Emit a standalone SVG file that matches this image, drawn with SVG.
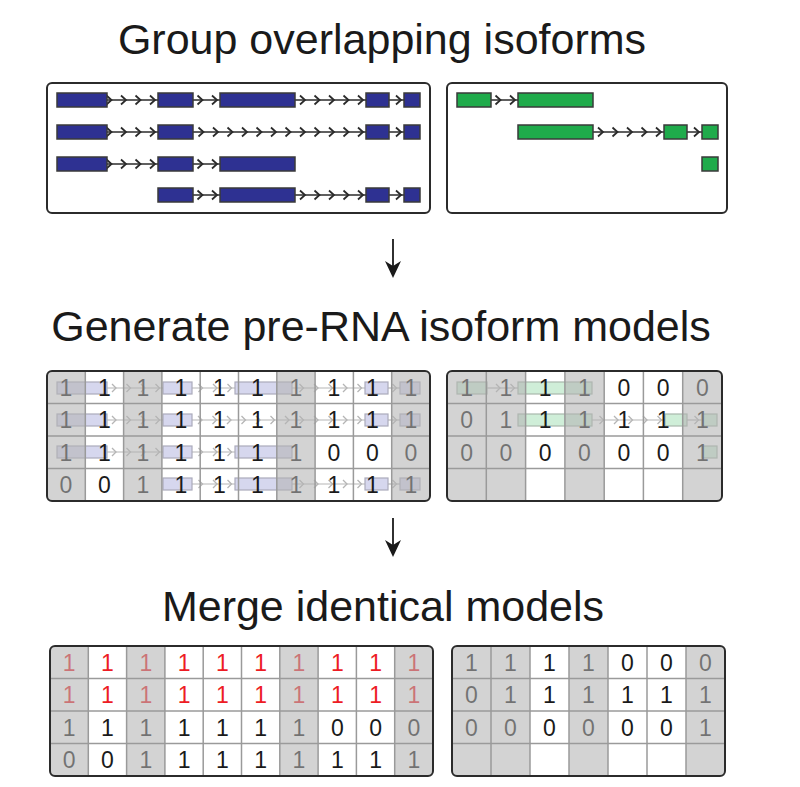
<svg xmlns="http://www.w3.org/2000/svg" width="800" height="787" viewBox="0 0 800 787">
<style>
.title{font-family:"Liberation Sans",Arial,Helvetica,sans-serif;font-size:43px;fill:#1a1a1a;text-anchor:middle}
.frame{fill:none;stroke:#2b2b2b;stroke-width:2}
.bg{fill:#ffffff}
.exB{fill:#2e3192;stroke:#3a3a3a;stroke-width:1.5}
.exG{fill:#1fab4b;stroke:#3a3a3a;stroke-width:1.5}
.intron{fill:none;stroke:#2b2b2b;stroke-width:1.5;marker-mid:url(#chev)}
.ovB{fill:#d6d7ee;stroke:#ababbb;stroke-width:1.2}
.ovG{fill:#cfeed8;stroke:#a8b8ac;stroke-width:1.2}
.ovI{fill:none;stroke:#b5b5b5;stroke-width:1.2;marker-mid:url(#chevL)}
.cell{font-family:"Liberation Sans",Arial,Helvetica,sans-serif;font-size:23px;fill:#1a1a1a;text-anchor:middle}
.red{fill:#ed1c24}
.gcol{fill:#b3b3b3;fill-opacity:0.58}
.grid{fill:none;stroke:#9a9a9a;stroke-width:1.5}
.shaft{stroke:#1a1a1a;stroke-width:1.8}
.head{fill:#1a1a1a}
</style>
<defs>
<marker id="chev" viewBox="-6 -6 12 12" markerWidth="12" markerHeight="12" refX="0" refY="0" orient="auto" markerUnits="userSpaceOnUse">
<path d="M-4,-4.5 L1,0 L-4,4.5" fill="none" stroke="#2b2b2b" stroke-width="1.8"/>
</marker>
<marker id="chevL" viewBox="-6 -6 12 12" markerWidth="12" markerHeight="12" refX="0" refY="0" orient="auto" markerUnits="userSpaceOnUse">
<path d="M-3.5,-4 L0.5,0 L-3.5,4" fill="none" stroke="#b5b5b5" stroke-width="1.3"/>
</marker>
<clipPath id="cML"><rect x="47" y="371" width="383" height="130" rx="5"/></clipPath>
<clipPath id="cMR"><rect x="447" y="371" width="275" height="130" rx="5"/></clipPath>
<clipPath id="cBL"><rect x="50" y="646" width="383" height="130" rx="5"/></clipPath>
<clipPath id="cBR"><rect x="452" y="646" width="273" height="130" rx="5"/></clipPath>
</defs>

<g id="title-group"><text class="title" x="382" y="54">Group overlapping isoforms</text></g>
<g id="title-generate"><text class="title" x="381" y="341">Generate pre-RNA isoform models</text></g>
<g id="title-merge"><text class="title" x="383" y="621">Merge identical models</text></g>

<!-- Top left: blue isoforms -->
<g id="isoforms-blue">
<rect class="bg" x="47" y="83" width="383" height="130" rx="5"/>
<polyline class="intron" points="107,100 110.5,100 125,100 139.5,100 154,100 158,100"/>
<polyline class="intron" points="193,100 201.5,100 216,100 220,100"/>
<polyline class="intron" points="295,100 304,100 318.5,100 333,100 347.5,100 362,100 366,100"/>
<polyline class="intron" points="389,100 400,100 404,100"/>
<rect class="exB" x="57" y="93" width="50" height="14"/>
<rect class="exB" x="158" y="93" width="35" height="14"/>
<rect class="exB" x="220" y="93" width="75" height="14"/>
<rect class="exB" x="366" y="93" width="23" height="14"/>
<rect class="exB" x="404" y="93" width="16" height="14"/>

<polyline class="intron" points="107,132 110.5,132 125,132 139.5,132 154,132 158,132"/>
<polyline class="intron" points="193,132 202.5,132 217,132 231.5,132 246,132 260.5,132 275,132 289.5,132 304,132 318.5,132 333,132 347.5,132 362,132 366,132"/>
<polyline class="intron" points="389,132 400,132 404,132"/>
<rect class="exB" x="57" y="125" width="50" height="14"/>
<rect class="exB" x="158" y="125" width="35" height="14"/>
<rect class="exB" x="366" y="125" width="23" height="14"/>
<rect class="exB" x="404" y="125" width="16" height="14"/>

<polyline class="intron" points="107,164 110.5,164 125,164 139.5,164 154,164 158,164"/>
<polyline class="intron" points="193,164 201.5,164 216,164 220,164"/>
<rect class="exB" x="57" y="157" width="50" height="14"/>
<rect class="exB" x="158" y="157" width="35" height="14"/>
<rect class="exB" x="220" y="157" width="75" height="14"/>

<polyline class="intron" points="193,195 201.5,195 216,195 220,195"/>
<polyline class="intron" points="295,195 304,195 318.5,195 333,195 347.5,195 362,195 366,195"/>
<polyline class="intron" points="389,195 400,195 404,195"/>
<rect class="exB" x="158" y="188" width="35" height="14"/>
<rect class="exB" x="220" y="188" width="75" height="14"/>
<rect class="exB" x="366" y="188" width="23" height="14"/>
<rect class="exB" x="404" y="188" width="16" height="14"/>
<rect class="frame" x="47" y="83" width="383" height="130" rx="5"/>
</g>

<!-- Top right: green isoforms -->
<g id="isoforms-green">
<rect class="bg" x="447" y="83" width="280" height="130" rx="5"/>
<polyline class="intron" points="491,100 499.5,100 514,100 518,100"/>
<rect class="exG" x="457" y="93" width="34" height="14"/>
<rect class="exG" x="518" y="93" width="75" height="14"/>
<polyline class="intron" points="593,132 602,132 616.5,132 631,132 645.5,132 660,132 664,132"/>
<polyline class="intron" points="687,132 698,132 702,132"/>
<rect class="exG" x="518" y="125" width="75" height="14"/>
<rect class="exG" x="664" y="125" width="23" height="14"/>
<rect class="exG" x="702" y="125" width="16" height="14"/>
<rect class="exG" x="702" y="157" width="16" height="14"/>
<rect class="frame" x="447" y="83" width="280" height="130" rx="5"/>
</g>

<!-- Middle left: blue models -->
<g id="models-blue">
<rect class="bg" x="47" y="371" width="383" height="130" rx="5"/>
<g id="overlay-blue">
<polyline class="ovI" points="107,388 115.5,388 130,388 144.5,388 159,388 163,388"/>
<polyline class="ovI" points="192,388 202,388 216.5,388 231,388 235,388"/>
<polyline class="ovI" points="292,388 303,388 317.5,388 332,388 346.5,388 361,388 365,388"/>
<polyline class="ovI" points="388,388 396,388 400,388"/>
<rect class="ovB" x="57" y="382" width="50" height="12"/>
<rect class="ovB" x="163" y="382" width="29" height="12"/>
<rect class="ovB" x="235" y="382" width="57" height="12"/>
<rect class="ovB" x="365" y="382" width="23" height="12"/>
<rect class="ovB" x="400" y="382" width="20" height="12"/>

<polyline class="ovI" points="107,420 115.5,420 130,420 144.5,420 159,420 163,420"/>
<polyline class="ovI" points="192,420 201.5,420 216,420 230.5,420 245,420 259.5,420 274,420 288.5,420 303,420 317.5,420 332,420 346.5,420 361,420 365,420"/>
<polyline class="ovI" points="388,420 396,420 400,420"/>
<rect class="ovB" x="57" y="414" width="50" height="12"/>
<rect class="ovB" x="163" y="414" width="29" height="12"/>
<rect class="ovB" x="365" y="414" width="23" height="12"/>
<rect class="ovB" x="400" y="414" width="20" height="12"/>

<polyline class="ovI" points="107,452 115.5,452 130,452 144.5,452 159,452 163,452"/>
<polyline class="ovI" points="192,452 202,452 216.5,452 231,452 235,452"/>
<rect class="ovB" x="57" y="446" width="50" height="12"/>
<rect class="ovB" x="163" y="446" width="29" height="12"/>
<rect class="ovB" x="235" y="446" width="57" height="12"/>

<polyline class="ovI" points="192,484 202,484 216.5,484 231,484 235,484"/>
<polyline class="ovI" points="292,484 303,484 317.5,484 332,484 346.5,484 361,484 365,484"/>
<polyline class="ovI" points="388,484 396,484 400,484"/>
<rect class="ovB" x="163" y="478" width="29" height="12"/>
<rect class="ovB" x="235" y="478" width="57" height="12"/>
<rect class="ovB" x="365" y="478" width="23" height="12"/>
<rect class="ovB" x="400" y="478" width="20" height="12"/>
</g>
<text class="cell" x="66 104.5 143 181 219.5 257.5 296 334 372.5 411" y="396">1111111111</text>
<text class="cell" x="66 104.5 143 181 219.5 257.5 296 334 372.5 411" y="428">1111111111</text>
<text class="cell" x="66 104.5 143 181 219.5 257.5 296 334 372.5 411" y="461">1111111000</text>
<text class="cell" x="66 104.5 143 181 219.5 257.5 296 334 372.5 411" y="493">0011111111</text>
<g clip-path="url(#cML)">
<rect class="gcol" x="47" y="371" width="38.3" height="130"/>
<rect class="gcol" x="123.6" y="371" width="38.3" height="130"/>
<rect class="gcol" x="276.8" y="371" width="38.3" height="130"/>
<rect class="gcol" x="391.7" y="371" width="38.3" height="130"/>
</g>
<path class="grid" d="M85.3,371V501M123.6,371V501M161.9,371V501M200.2,371V501M238.5,371V501M276.8,371V501M315.1,371V501M353.4,371V501M391.7,371V501M47,403.5H430M47,436H430M47,468.5H430"/>
<rect class="frame" x="47" y="371" width="383" height="130" rx="5"/>
</g>

<!-- Middle right: green models -->
<g id="models-green">
<rect class="bg" x="447" y="371" width="275" height="130" rx="5"/>
<g id="overlay-green">
<polyline class="ovI" points="487,388 499.5,388 514,388 518,388"/>
<rect class="ovG" x="457" y="382" width="30" height="12"/>
<rect class="ovG" x="518" y="382" width="74" height="12"/>
<polyline class="ovI" points="592,420 603,420 617.5,420 632,420 646.5,420 661,420 665,420"/>
<polyline class="ovI" points="687,420 698,420 702,420"/>
<rect class="ovG" x="518" y="414" width="74" height="12"/>
<rect class="ovG" x="665" y="414" width="22" height="12"/>
<rect class="ovG" x="702" y="414" width="15" height="12"/>
<rect class="ovG" x="702" y="446" width="15" height="12"/>
</g>
<text class="cell" x="466.6 505.9 545.2 584.5 623.8 663.1 702.4" y="396">1111000</text>
<text class="cell" x="466.6 505.9 545.2 584.5 623.8 663.1 702.4" y="428">0111111</text>
<text class="cell" x="466.6 505.9 545.2 584.5 623.8 663.1 702.4" y="461">0000001</text>
<g clip-path="url(#cMR)">
<rect class="gcol" x="447" y="371" width="78.6" height="130"/>
<rect class="gcol" x="564.9" y="371" width="39.3" height="130"/>
<rect class="gcol" x="682.7" y="371" width="39.3" height="130"/>
</g>
<path class="grid" d="M486.3,371V501M525.6,371V501M564.9,371V501M604.2,371V501M643.4,371V501M682.7,371V501M447,403.5H722M447,436H722M447,468.5H722"/>
<rect class="frame" x="447" y="371" width="275" height="130" rx="5"/>
</g>

<!-- Bottom left: merged blue -->
<g id="merged-blue">
<rect class="bg" x="50" y="646" width="383" height="130" rx="5"/>
<text class="cell red" x="69.2 107.5 145.8 184.1 222.4 260.7 299 337.3 375.6 413.9" y="671">1111111111</text>
<text class="cell red" x="69.2 107.5 145.8 184.1 222.4 260.7 299 337.3 375.6 413.9" y="703">1111111111</text>
<text class="cell" x="69.2 107.5 145.8 184.1 222.4 260.7 299 337.3 375.6 413.9" y="736">1111111000</text>
<text class="cell" x="69.2 107.5 145.8 184.1 222.4 260.7 299 337.3 375.6 413.9" y="768">0011111111</text>
<g clip-path="url(#cBL)">
<rect class="gcol" x="50" y="646" width="38.3" height="130"/>
<rect class="gcol" x="126.6" y="646" width="38.3" height="130"/>
<rect class="gcol" x="279.8" y="646" width="38.3" height="130"/>
<rect class="gcol" x="394.7" y="646" width="38.3" height="130"/>
</g>
<path class="grid" d="M88.3,646V776M126.6,646V776M164.9,646V776M203.2,646V776M241.5,646V776M279.8,646V776M318.1,646V776M356.4,646V776M394.7,646V776M50,678.5H433M50,711H433M50,743.5H433"/>
<rect class="frame" x="50" y="646" width="383" height="130" rx="5"/>
</g>

<!-- Bottom right: merged green -->
<g id="merged-green">
<rect class="bg" x="452" y="646" width="273" height="130" rx="5"/>
<text class="cell" x="471.5 510.5 549.5 588.5 627.5 666.5 705.5" y="671">1111000</text>
<text class="cell" x="471.5 510.5 549.5 588.5 627.5 666.5 705.5" y="703">0111111</text>
<text class="cell" x="471.5 510.5 549.5 588.5 627.5 666.5 705.5" y="736">0000001</text>
<g clip-path="url(#cBR)">
<rect class="gcol" x="452" y="646" width="78" height="130"/>
<rect class="gcol" x="569" y="646" width="39" height="130"/>
<rect class="gcol" x="686" y="646" width="39" height="130"/>
</g>
<path class="grid" d="M491,646V776M530,646V776M569,646V776M608,646V776M647,646V776M686,646V776M452,678.5H725M452,711H725M452,743.5H725"/>
<rect class="frame" x="452" y="646" width="273" height="130" rx="5"/>
</g>

<!-- Connectors -->
<g id="connectors">
<line class="shaft" x1="393" y1="239" x2="393" y2="268"/>
<path class="head" d="M393,278 L385,261 L393,266 L401,261 Z"/>
<line class="shaft" x1="393" y1="518" x2="393" y2="547"/>
<path class="head" d="M393,557 L385,540 L393,545 L401,540 Z"/>
</g>
</svg>
